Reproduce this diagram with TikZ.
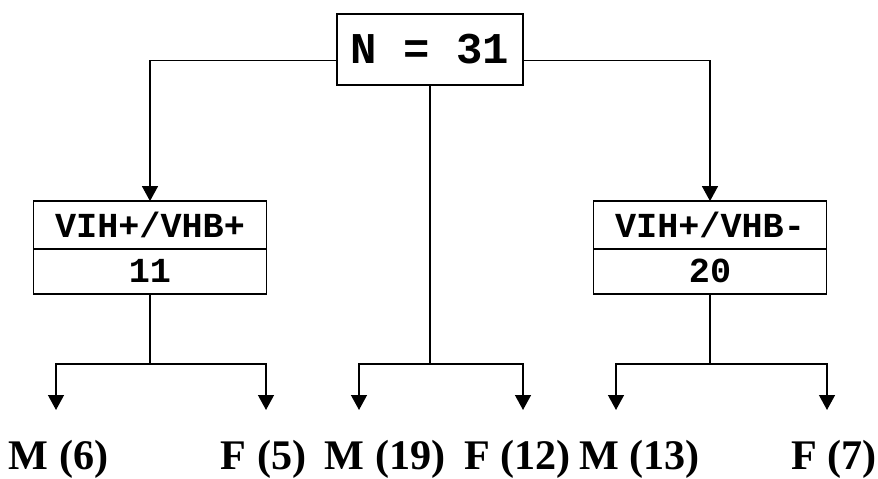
\documentclass[tikz,border=0pt]{standalone}
\usepackage{fontspec}
\setmainfont{Liberation Serif}
\newfontfamily\boxfont{Liberation Mono}
\usetikzlibrary{arrows.meta,positioning}

\begin{document}
\begin{tikzpicture}[x=0.02cm,y=-0.02cm,line width=1pt,
    box/.style={draw,rectangle,inner sep=0pt,outer sep=0pt,minimum width=132.7pt,
      font=\boxfont\bfseries\fontsize{20}{24}\selectfont},
    tip/.style={-{Triangle[length=8.5pt,width=9pt]}},
    leaf/.style={anchor=base,inner sep=0pt,font=\fontsize{24}{28}\selectfont\bfseries}]
  \useasboundingbox (0,0) rectangle (878,479);

  \node[box,minimum width=106pt,minimum height=40.3pt,
    font=\boxfont\bfseries\fontsize{25}{30}\selectfont] (top) at (430,49.5) {N = 31};

  \node[box,minimum height=27.2pt] (posA) at (150,225) {VIH+/VHB+};
  \node[box,minimum height=25.5pt,below=0pt of posA] (nA) {11};
  \node[box,minimum height=27.2pt] (posC) at (710,225) {VIH+/VHB-};
  \node[box,minimum height=25.5pt,below=0pt of posC] (nC) {20};

  \coordinate (forkA) at (150,364);
  \coordinate (forkB) at (top.south |- 0,364);
  \coordinate (forkC) at (710,364);
  \coordinate (endA1) at (56,410);
  \coordinate (endA2) at (266,410);
  \coordinate (endB1) at (359,410);
  \coordinate (endB2) at (523,410);
  \coordinate (endC1) at (616,410);
  \coordinate (endC2) at (827,410);

  \draw[tip] ([yshift=-6.2pt]top.west) -| (posA);
  \draw[tip] ([yshift=-6.2pt]top.east) -| (posC);
  \draw (top.south) -- (forkB);
  \draw (nA) -- (forkA);
  \draw (nC) -- (forkC);

  \draw[tip] (forkA) -| (endA1);
  \draw[tip] (forkA) -| (endA2);
  \draw[tip] (forkB) -| (endB1);
  \draw[tip] (forkB) -| (endB2);
  \draw[tip] (forkC) -| (endC1);
  \draw[tip] (forkC) -| (endC2);

  \node[leaf] (mA) at (58.5,469) {M (6)};
  \node[leaf] (fA) at (263.5,469) {F (5)};
  \node[leaf] (mB) at (385,469) {M (19)};
  \node[leaf] (fB) at (517.5,469) {F (12)};
  \node[leaf] (mC) at (639.5,469) {M (13)};
  \node[leaf] (fC) at (834,469) {F (7)};
\end{tikzpicture}
\end{document}
